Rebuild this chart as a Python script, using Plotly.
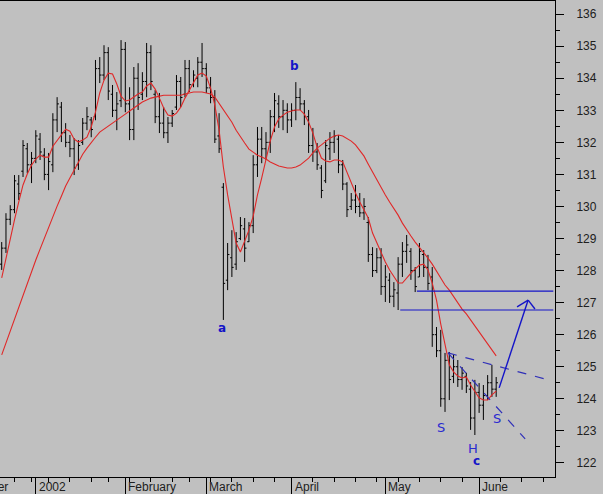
import plotly.graph_objects as go

# trading-day index: 0 = 2 Jan 2002
days = list(range(-8, 109))

highs = [128.89, 129.79, 130.04, 130.98, 130.98, 132.07, 131.98, 131.70,
         132.38, 132.29, 131.82, 131.67, 132.91, 133.41, 133.26, 132.60, 132.23, 132.13,
         132.07, 132.76, 133.10, 132.79, 134.57, 134.66, 135.03, 134.97, 133.79, 133.57,
         135.19, 135.13, 133.72, 134.35, 134.47, 134.19, 135.10, 135.03, 133.63, 133.54,
         133.10, 132.79, 133.01, 134.10, 134.04, 134.57, 134.57, 134.25, 134.66, 135.10,
         134.47, 134.04, 133.63, 132.91, 130.73, 128.86, 129.26, 129.20, 129.67, 129.64,
         129.51, 131.60, 132.48, 132.48, 132.32, 133.01, 133.54, 133.47, 133.32, 133.22,
         133.22, 133.88, 133.69, 133.32, 133.01, 132.45, 131.98, 131.29, 132.07, 132.32,
         132.38, 132.23, 131.45, 130.76, 130.42, 130.67, 130.42, 130.26, 129.67, 128.73,
         128.70, 128.70, 128.17, 127.92, 127.64, 128.42, 128.89, 129.11, 128.70, 128.11,
         128.86, 128.64, 128.49, 128.11, 126.24, 126.15, 125.43, 125.46, 125.37, 125.21,
         124.99, 124.81, 124.52, 124.59, 124.49, 124.43, 124.74, 125.06, 124.68]

lows = [128.02, 128.55, 129.42, 129.79, 130.20, 130.92, 131.04, 130.73,
        131.35, 131.45, 130.82, 130.51, 131.07, 132.32, 132.01, 131.85, 131.54, 130.98,
        131.14, 131.92, 132.38, 132.16, 132.69, 133.85, 133.94, 133.32, 132.79, 132.38,
        133.10, 132.94, 132.07, 132.07, 133.01, 133.32, 133.41, 133.63, 132.60, 132.29,
        132.13, 131.98, 132.48, 133.01, 133.10, 133.41, 133.57, 133.72, 133.72, 134.04,
        133.54, 133.22, 131.98, 131.67, 126.46, 127.39, 127.80, 128.02, 128.95, 128.27,
        128.89, 129.17, 130.92, 131.35, 131.45, 131.67, 132.32, 132.45, 132.38, 132.29,
        132.48, 132.69, 133.01, 132.54, 131.67, 131.39, 131.14, 130.26, 130.73, 131.45,
        131.67, 131.04, 130.51, 129.67, 129.89, 129.79, 129.67, 129.58, 128.27, 127.80,
        127.92, 127.24, 127.02, 126.99, 126.86, 126.77, 127.80, 128.24, 127.71, 127.33,
        127.80, 127.80, 127.39, 125.62, 125.30, 123.75, 123.59, 123.96, 124.49, 124.37,
        124.28, 124.18, 123.03, 122.87, 123.56, 123.34, 123.96, 124.06, 124.06]

opens = [128.2, 128.7, 129.6, 129.9, 130.7, 131.1, 131.8, 131.3,
         131.5, 132.1, 131.6, 131.0, 131.3, 132.7, 133.1, 132.3, 132.0, 131.8,
         131.3, 132.0, 132.6, 132.7, 132.8, 134.3, 134.1, 134.8, 133.5, 133.0,
         133.3, 134.9, 133.2, 132.4, 134.0, 133.5, 133.9, 134.8, 133.5, 132.8,
         132.6, 132.3, 132.6, 133.1, 133.9, 133.5, 134.3, 133.8, 134.0, 134.5,
         134.3, 133.7, 133.4, 132.2, 130.6, 127.7, 128.4, 128.2, 129.0, 129.3,
         128.9, 129.4, 131.3, 132.1, 131.8, 132.0, 132.8, 133.2, 132.8, 133.0,
         132.7, 133.0, 133.4, 133.2, 132.8, 131.9, 131.7, 131.2, 130.8, 131.8,
         132.0, 132.1, 131.3, 130.7, 130.0, 130.2, 130.0, 129.8, 129.5, 128.5,
         128.0, 128.4, 127.5, 127.7, 127.2, 127.3, 128.2, 128.6, 128.6, 128.0,
         127.8, 128.5, 128.1, 127.8, 126.0, 125.5, 124.0, 125.2, 124.7, 125.0,
         124.6, 124.7, 124.3, 123.4, 124.2, 123.8, 124.1, 124.5, 124.3]

closes = [128.7, 129.6, 129.9, 130.8, 130.4, 131.9, 131.3, 131.5,
          132.2, 131.7, 131.0, 131.4, 132.7, 133.2, 132.3, 132.0, 131.8, 131.2,
          131.9, 132.6, 132.8, 132.4, 134.3, 134.1, 134.8, 133.6, 133.0, 133.2,
          134.9, 133.2, 132.4, 134.0, 133.4, 133.9, 134.8, 133.9, 132.8, 132.6,
          132.3, 132.6, 132.9, 133.9, 133.4, 134.3, 133.8, 134.1, 134.5, 134.3,
          133.7, 133.4, 132.1, 131.8, 127.6, 128.5, 128.1, 128.9, 129.4, 128.7,
          129.4, 131.3, 132.1, 131.8, 132.0, 132.8, 133.3, 132.8, 133.0, 132.7,
          133.0, 133.4, 133.2, 132.8, 131.9, 131.7, 131.3, 130.5, 131.9, 132.0,
          132.2, 131.3, 130.7, 129.9, 130.2, 130.0, 129.8, 130.0, 128.5, 128.0,
          128.4, 127.5, 127.8, 127.2, 127.4, 128.2, 128.6, 128.8, 128.0, 127.5,
          128.6, 128.1, 127.6, 126.0, 125.5, 124.0, 125.2, 124.6, 125.0, 124.6,
          124.8, 124.4, 123.4, 124.2, 123.8, 124.1, 124.5, 124.3, 124.5]

ma_short = [127.77, 128.39, 129.02, 129.58, 130.14, 130.67, 131.01, 131.29,
            131.48, 131.60, 131.54, 131.54, 131.88, 132.07, 132.23, 132.41, 132.35, 132.10,
            132.01, 132.07, 132.16, 132.48, 132.94, 133.54, 133.94, 134.16, 134.13, 133.82,
            133.44, 133.29, 133.32, 133.41, 133.51, 133.57, 133.76, 133.85, 133.66, 133.38,
            133.07, 132.85, 132.82, 132.91, 133.10, 133.38, 133.63, 133.88, 134.10, 134.16,
            134.07, 133.69, 133.16, 132.38, 131.23, 130.36, 129.58, 128.86, 128.58, 128.92,
            129.26, 129.70, 130.36, 130.89, 131.45, 132.04, 132.48, 132.73, 132.85, 132.94,
            132.98, 133.01, 133.01, 132.88, 132.63, 132.29, 131.85, 131.51, 131.42, 131.39,
            131.45, 131.45, 131.39, 131.07, 130.70, 130.42, 130.14, 129.89, 129.64, 129.17,
            128.86, 128.58, 128.27, 128.02, 127.80, 127.61, 127.61, 127.77, 127.92, 128.05,
            128.17, 128.20, 128.02, 127.61, 127.08, 126.33, 125.68, 125.06, 124.84, 124.71,
            124.65, 124.68, 124.43, 124.21, 124.03, 123.96, 123.96, 124.12, 124.24]

ma_long = [125.37, 125.74, 126.15, 126.49, 126.83, 127.21, 127.58, 127.95,
           128.33, 128.67, 129.02, 129.36, 129.70, 130.01, 130.32, 130.64, 130.89, 131.14,
           131.39, 131.63, 131.82, 132.01, 132.16, 132.32, 132.41, 132.51, 132.60, 132.69,
           132.79, 132.88, 132.98, 133.07, 133.16, 133.26, 133.32, 133.38, 133.41, 133.44,
           133.47, 133.47, 133.47, 133.47, 133.47, 133.51, 133.54, 133.57, 133.57, 133.57,
           133.54, 133.51, 133.41, 133.22, 133.04, 132.85, 132.63, 132.38, 132.16, 131.98,
           131.79, 131.70, 131.60, 131.54, 131.48, 131.39, 131.32, 131.26, 131.23, 131.20,
           131.20, 131.23, 131.29, 131.39, 131.51, 131.67, 131.82, 131.92, 132.04, 132.13,
           132.20, 132.23, 132.20, 132.13, 132.04, 131.92, 131.76, 131.57, 131.32, 131.07,
           130.82, 130.57, 130.36, 130.14, 129.95, 129.73, 129.48, 129.26, 129.08, 128.89,
           128.73, 128.58, 128.39, 128.20, 127.99, 127.77, 127.55, 127.39, 127.18, 126.99,
           126.80, 126.65, 126.46, 126.27, 126.08, 125.90, 125.71, 125.52, 125.34]

month_ticks = [0, 21, 40, 60, 82, 104]
month_labels = ["2002", "February", "March", "April", "May", "June"]
week_ticks = [-5, -1, 3, 8, 13, 17, 22, 27, 32, 36, 41, 46, 51, 56, 65, 70, 75,
              80, 85, 90, 95, 100, 109, 114, 119]

# chart annotations (trading-day index, price)
wave_labels = [("a", 43.7, 126.21, True), ("b", 60.8, 134.38, True),
               ("c", 103.3, 122.06, True), ("S", 95.1, 123.09, False),
               ("H", 102.6, 122.44, False), ("S", 108.2, 123.40, False)]
resist_upper = (89.4, 121.4, 127.36)
resist_lower = (85.5, 121.4, 126.77)
neck_top = ((96.7, 125.43), (121.1, 124.56))
neck_bottom = ((96.7, 125.43), (114.8, 122.75))
arrow_main = ((108.7, 124.34), (115.5, 127.08))
arrow_wings = [(112.9, 126.87), (117.1, 126.80)]

X_RANGE = [-8.4, 121.8]
Y_RANGE = [121.56, 136.41]

BG = "#c0c0c0"
BLUE = "#1414c8"
DASH_BLUE = "#3030b8"
RED = "#e02828"

fig = go.Figure()
fig.add_trace(go.Ohlc(
    x=days, open=opens, high=highs, low=lows, close=closes,
    increasing=dict(line=dict(color="black", width=1)),
    decreasing=dict(line=dict(color="black", width=1)),
    tickwidth=0.42, showlegend=False, hoverinfo="skip"))
fig.add_trace(go.Scatter(x=days, y=ma_long, mode="lines",
                         line=dict(color=RED, width=1.1), showlegend=False,
                         hoverinfo="skip"))
fig.add_trace(go.Scatter(x=days, y=ma_short, mode="lines",
                         line=dict(color=RED, width=1.1), showlegend=False,
                         hoverinfo="skip"))

shapes = []
for x0, x1, yv in (resist_upper, resist_lower):
    shapes.append(dict(type="line", x0=x0, x1=x1, y0=yv, y1=yv, xref="x", yref="y",
                       line=dict(color=BLUE, width=1.2)))
for (p0, p1) in (neck_top, neck_bottom):
    shapes.append(dict(type="line", x0=p0[0], y0=p0[1], x1=p1[0], y1=p1[1],
                       xref="x", yref="y", line=dict(color=DASH_BLUE, width=1.2, dash="dash")))
(a0, a1) = arrow_main
shapes.append(dict(type="line", x0=a0[0], y0=a0[1], x1=a1[0], y1=a1[1],
                   xref="x", yref="y", line=dict(color=BLUE, width=1.4)))
for w in arrow_wings:
    shapes.append(dict(type="line", x0=w[0], y0=w[1], x1=a1[0], y1=a1[1],
                       xref="x", yref="y", line=dict(color=BLUE, width=1.4)))

annotations = []
for txt, xv, yv, bold in wave_labels:
    annotations.append(dict(
        x=xv, y=yv, xref="x", yref="y", showarrow=False,
        text=f"<b>{txt}</b>" if bold else txt,
        font=dict(family="DejaVu Sans", size=12 if bold else 13, color=BLUE if bold else "#2a2ad0")))
for xv, lab in zip(month_ticks, month_labels):
    annotations.append(dict(
        x=xv, y=0, xref="x", yref="paper", yanchor="top", xanchor="left",
        xshift=1, yshift=-1, showarrow=False, text=lab,
        font=dict(family="Liberation Sans", size=12, color="#202020")))
annotations.append(dict(
    x=-49.0 / 555.0, y=0, xref="paper", yref="paper", yanchor="top", xanchor="left",
    yshift=-1, showarrow=False, text="December",
    font=dict(family="Liberation Sans", size=12, color="#202020")))

fig.update_layout(
    width=603, height=494,
    margin=dict(l=0, r=48, t=1, b=17),
    paper_bgcolor=BG, plot_bgcolor=BG,
    shapes=shapes, annotations=annotations,
    xaxis=dict(range=X_RANGE, showgrid=False, zeroline=False, rangeslider=dict(visible=False),
               showline=True, linecolor="black", linewidth=1, mirror=True,
               tickmode="array", tickvals=month_ticks, ticks="outside", ticklen=17,
               tickcolor="black", showticklabels=False,
               minor=dict(tickmode="array", tickvals=week_ticks, ticks="outside",
                          ticklen=4, tickcolor="black", showgrid=False)),
    yaxis=dict(range=Y_RANGE, side="right", showgrid=False, zeroline=False,
               showline=True, linecolor="black", linewidth=1,
               tickmode="linear", tick0=122, dtick=1, ticks="outside", ticklen=8,
               tickcolor="black", ticklabelstandoff=10,
               tickfont=dict(family="Liberation Sans", size=12, color="#202020"),
               minor=dict(dtick=0.5, ticks="outside", ticklen=4, tickcolor="black",
                          showgrid=False)),
)

fig.write_html("out.html",
               config={"displayModeBar": False, "staticPlot": True},
               post_script="document.body.style.margin='0';document.body.style.background='#c0c0c0';")
